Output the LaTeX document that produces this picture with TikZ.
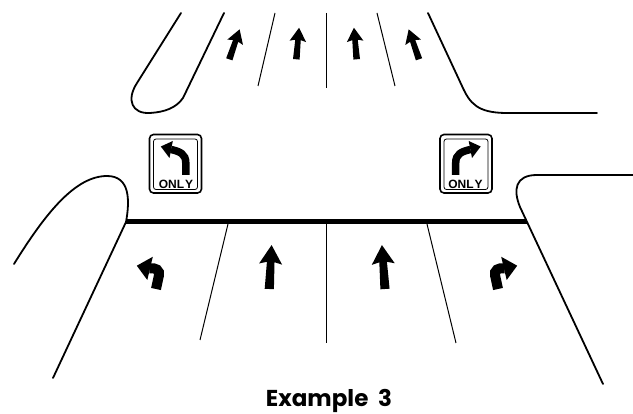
\documentclass[tikz,border=0pt]{standalone}
\usepackage{fontspec}
\setmainfont{Liberation Sans}
\newfontfamily\examplefont{Poppins}
\newcommand\myturnarrow{%
    \draw[line width=10pt] (156,289) -- (158.8,276) .. controls (160.3,270) and (155.5,267.5) .. (149.5,268.3);
    \fill (136.8,265.7) -- (152.8,256.8) -- (147.3,280) -- cycle;}
\newcommand\mysignarrow{%
    \draw[line width=7.5pt] (185.8,175) -- (185.8,163) .. controls (185.8,154) and (180,151.5) .. (171,149.5);
    \fill (160.8,146.5) -- (172.8,141) -- (169.5,158) -- cycle;}
\newcommand\mysignbox{%
    \draw[line width=1.6pt,rounded corners=4pt] (149.5,134.5) rectangle (201.5,193);
    \draw[line width=0.8pt,rounded corners=2.5pt] (153.5,139) rectangle (197.5,189.5);}
\begin{document}
\begin{tikzpicture}[x=1pt,y=-1pt,
  curb/.style={line width=1.8pt,line join=round,line cap=round},
  lane/.style={line width=1pt},
  onlytext/.style={font=\bfseries\fontsize{12}{13}\selectfont,inner sep=0pt},
  straightarrow/.pic={\fill (-4.6,0) -- (-3.8,-27) -- (-11.5,-25) -- (0,-44) -- (11.5,-25) -- (3.8,-27) -- (4.6,0) -- cycle;}
]
\useasboundingbox (0,0) rectangle (633,414);
% top left island
\draw[curb] (181,13) -- (137,83) .. controls (126,100) and (132,114) .. (150,113) .. controls (165,112) and (176,108) .. (183,98) -- (224,13);
% top right curb
\draw[curb] (428,13) -- (462,86) .. controls (470,104) and (478,112.5) .. (505,113) -- (597,113);
% top lane lines
\draw[lane] (275,13) -- (258,86);
\draw[lane] (326,13) -- (326,88);
\draw[lane] (377,13) -- (395,86);
% top arrows
\pic[rotate=-19,scale=0.72] at (229.3,59.3) {straightarrow};
\pic[rotate=-5,scale=0.72] at (296.3,59.3) {straightarrow};
\pic[rotate=5,scale=0.72] at (356.7,59.3) {straightarrow};
\pic[rotate=19,scale=0.72] at (419,59.3) {straightarrow};
% signs
\mysignbox
\mysignarrow
\node[onlytext] (onlyL) at (176,184) {ONL\kern1pt Y};
\begin{scope}[shift={(641.5,0)},xscale=-1]
  \mysignbox
  \mysignarrow
\end{scope}
\node[onlytext] (onlyR) at (465.5,184) {ONL\kern1pt Y};
% bottom left curb
\draw[curb] (14,264) .. controls (45,214) and (75,176) .. (107,176) .. controls (130,176) and (130,200) .. (126,222) -- (53,378);
% bottom right curb
\draw[curb] (633,175) -- (537,175) .. controls (515,175) and (513,190) .. (520,207) -- (603,384);
% stop bar
\draw[line width=5pt] (126,222) -- (527,222);
% bottom lane lines
\draw[lane] (228,224) -- (200,340);
\draw[lane] (326,224) -- (326,343);
\draw[lane] (427,224) -- (456,343);
% bottom arrows
\pic[rotate=-3] at (269.3,289) {straightarrow};
\pic[rotate=4] at (385,289) {straightarrow};
\myturnarrow
\begin{scope}[shift={(654,0)},xscale=-1]
  \myturnarrow
\end{scope}
% caption
\node[font=\examplefont\bfseries\fontsize{23}{26}\selectfont,inner sep=0pt] (caption) at (329,401) {Example\ \ 3};
\end{tikzpicture}
\end{document}
